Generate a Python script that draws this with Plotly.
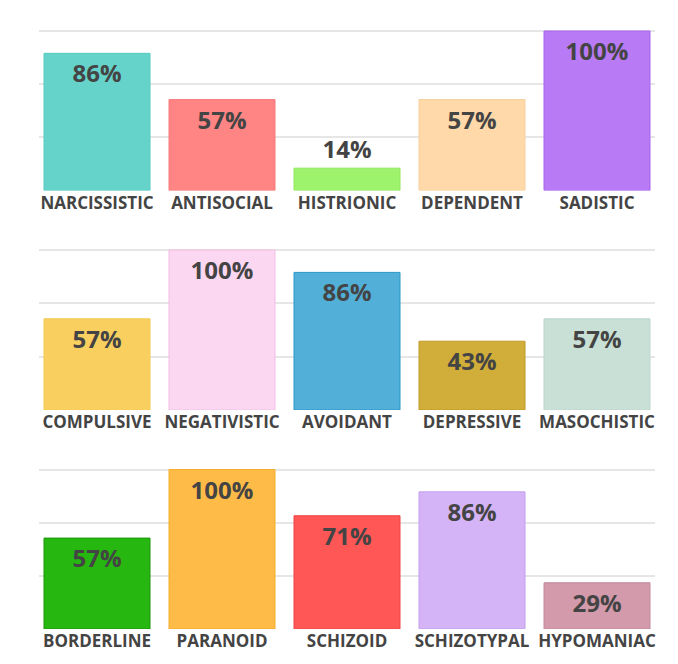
import plotly.graph_objects as go

row1_names = ["NARCISSISTIC", "ANTISOCIAL", "HISTRIONIC", "DEPENDENT", "SADISTIC"]
row1_values = [86, 57, 14, 57, 100]
row1_colors = ["#66d3ca", "#ff8484", "#9ef36c", "#ffd9a9", "#b87af5"]
row1_lines = ["#55cbc1", "#f77a7a", "#8fe85c", "#f8cf9c", "#a965ec"]

row2_names = ["COMPULSIVE", "NEGATIVISTIC", "AVOIDANT", "DEPRESSIVE", "MASOCHISTIC"]
row2_values = [57, 100, 86, 43, 57]
row2_colors = ["#f9d05f", "#fcd7f1", "#52b0d8", "#d1ad3a", "#c9e0d6"]
row2_lines = ["#f5c850", "#f3bde4", "#2a98c6", "#bf9a25", "#bcd6cb"]

row3_names = ["BORDERLINE", "PARANOID", "SCHIZOID", "SCHIZOTYPAL", "HYPOMANIAC"]
row3_values = [57, 100, 71, 86, 29]
row3_colors = ["#26b710", "#ffbb48", "#ff5656", "#d4b3f6", "#d29aaa"]
row3_lines = ["#1c960b", "#f4ad2c", "#ef4444", "#c5a0ef", "#c48a9b"]

grid_vals = [0, 100 / 3, 200 / 3, 100]

rows = [
    (row1_names, row1_values, row1_colors, row1_lines),
    (row2_names, row2_values, row2_colors, row2_lines),
    (row3_names, row3_values, row3_colors, row3_lines),
]

# page body has an 8px margin, so the figure is 8px smaller and shifted
W = 670.0
H = 656.0
# (baseline px, top-of-range px) in figure coordinates
row_px = [(182.5, 21.4), (402.0, 240.4), (621.0, 459.9)]

fig = go.Figure()
TEXT = "#444444"
FONT = "Open Sans"

for i, (names, vals, cols, lines) in enumerate(rows):
    ax = "" if i == 0 else str(i + 1)
    fig.add_trace(go.Bar(
        x=names, y=vals,
        xaxis="x" + ax, yaxis="y" + ax,
        marker=dict(color=cols, line=dict(color=lines, width=1)),
        texttemplate="%{y}%",
        textposition="auto",
        insidetextanchor="end",
        textangle=0,
        constraintext="none",
        insidetextfont=dict(family=FONT, size=24, color=TEXT, weight="bold"),
        outsidetextfont=dict(family=FONT, size=24, color=TEXT, weight="bold"),
        cliponaxis=False,
        hoverinfo="skip",
        showlegend=False,
    ))
    base, top = row_px[i]
    ydom = [(H - base) / H, (H - top) / H]
    fig.update_layout(**{
        "xaxis" + ax: dict(
            domain=[31 / W, 647 / W],
            range=[-0.464, 4.464],
            anchor="y" + ax,
            showgrid=False, zeroline=False, showline=False,
            ticks="", ticklen=0,
            tickfont=dict(family=FONT, size=17, color=TEXT, weight="bold"),
            fixedrange=True,
        ),
        "yaxis" + ax: dict(
            domain=ydom,
            range=[0, 101],
            anchor="x" + ax,
            tickvals=grid_vals,
            showticklabels=False,
            showgrid=True, gridcolor="#e6e6e6", gridwidth=1.5,
            zeroline=False, showline=False,
            fixedrange=True,
        ),
    })

fig.update_layout(
    width=int(W), height=int(H),
    margin=dict(l=0, r=0, t=0, b=0),
    paper_bgcolor="white", plot_bgcolor="white",
    bargap=0.152,
    font=dict(family=FONT, color=TEXT),
)

fig.write_html("out.html")
